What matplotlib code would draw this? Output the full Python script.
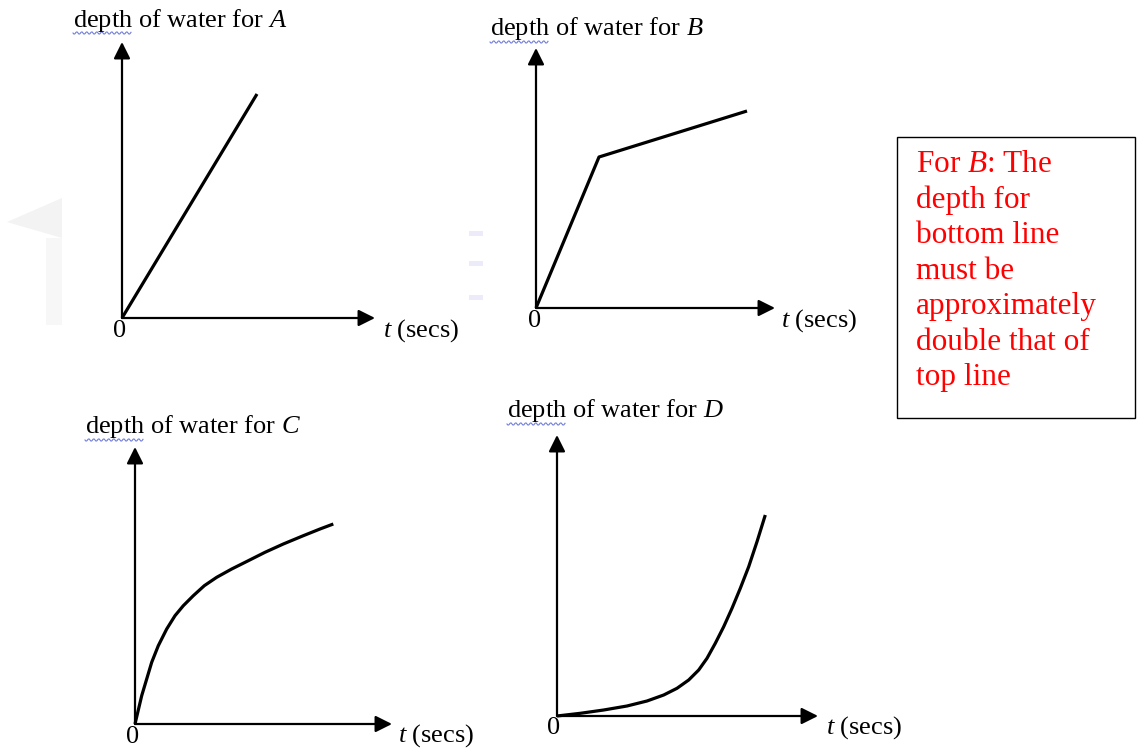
import numpy as np
import matplotlib
matplotlib.use("Agg")
import matplotlib.pyplot as plt
from matplotlib.patches import Rectangle, Polygon

plt.rcParams["font.family"] = ["Liberation Serif", "DejaVu Serif"]
plt.rcParams["mathtext.fontset"] = "custom"
plt.rcParams["mathtext.rm"] = "Liberation Serif"
plt.rcParams["mathtext.it"] = "Liberation Serif:italic"

W, H = 1137, 749

# sketch curves, (time, depth) in arbitrary units measured from the origin
t_a = [0, 13.5]
d_a = [0, 22.4]

t_b = [0, 6.3, 21.1]
d_b = [0, 15.1, 19.7]

t_c = [0, 0.67, 1.17, 1.67, 2.33, 3.17, 4.0, 4.83, 5.83, 6.93, 8.17,
       9.67, 11.33, 13.0, 14.83, 16.83, 18.5, 19.83]
d_c = [0, 2.83, 4.5, 6.17, 7.83, 9.5, 10.83, 11.83, 12.83, 13.83, 14.67,
       15.5, 16.33, 17.17, 18.0, 18.83, 19.5, 20.0]

t_d = [0, 2.33, 4.67, 7.0, 9.0, 10.67, 12.0, 13.17, 14.17, 15.0, 15.83,
       16.67, 17.5, 18.33, 19.17, 20.0, 20.83]
d_d = [0, 0.27, 0.6, 1.0, 1.5, 2.1, 2.77, 3.6, 4.6, 5.77, 7.27,
       8.93, 10.77, 12.77, 14.93, 17.43, 20.1]

tanks = ["A", "B", "C", "D"]
series = [(t_a, d_a), (t_b, d_b), (t_c, d_c), (t_d, d_d)]

# panel frames in pixels: origin x, origin y, x-arrow length, y-arrow length
frames = [(122, 318, 253, 276),
          (536, 308, 239, 260),
          (135, 724, 257, 277),
          (557, 716, 261, 281)]
# label anchors in pixels
title_pos = [(73, 20), (490, 29), (85, 427), (507, 411)]
zero_pos = [(113, 331), (528, 321), (126, 737), (547, 728)]
tsecs_pos = [(383, 331), (781, 321), (398, 736), (826, 728)]

note = "For $B$: The\ndepth for\nbottom line\nmust be\napproximately\ndouble that of\ntop line"

fig = plt.figure(figsize=(W / 100, H / 100), dpi=100)
fig.patch.set_facecolor("white")


def fx(x):
    return x / W


def fy(y):
    return 1 - y / H


renderer = fig.canvas.get_renderer()

# faint background watermark
fig.add_artist(Polygon([(fx(7), fy(222)), (fx(62), fy(198)), (fx(62), fy(238))],
                       closed=True, facecolor="#f3f3f3", edgecolor="none", zorder=0))
fig.add_artist(Rectangle((fx(46), fy(325)), 16 / W, 87 / H,
                         facecolor="#f7f7f7", edgecolor="none", zorder=0))
for yy in (231, 261, 295):
    fig.add_artist(Rectangle((fx(469), fy(yy + 5)), 14 / W, 5 / H,
                             facecolor="#ebebfa", edgecolor="none", zorder=0))

for name, (t, d), (ox, oy, lx, ly), tp, zp, sp in zip(
        tanks, series, frames, title_pos, zero_pos, tsecs_pos):
    ax = fig.add_axes([fx(ox), fy(oy), lx / W, ly / H])
    ax.set_xlim(0, lx / 10)
    ax.set_ylim(0, ly / 10)
    ax.axis("off")
    arrow = dict(arrowstyle="-|>,head_length=0.5,head_width=0.25",
                 mutation_scale=20, lw=1.6, color="black",
                 shrinkA=0, shrinkB=0)
    ax.annotate("", xy=(1, 0), xytext=(0, 0), xycoords="axes fraction",
                arrowprops=arrow)
    ax.annotate("", xy=(0, 1), xytext=(0, 0), xycoords="axes fraction",
                arrowprops=arrow)
    ax.plot(t, d, color="black", lw=2.3, clip_on=False,
            solid_joinstyle="round", solid_capstyle="butt")

    fig.text(fx(tp[0]), fy(tp[1]), "depth of water for $%s$" % name,
             fontsize=19, va="center", ha="left")
    fig.text(fx(zp[0]), fy(zp[1]), "0", fontsize=19, va="center", ha="left")
    fig.text(fx(sp[0]), fy(sp[1]), "$t$ (secs)", fontsize=19,
             va="center", ha="left")

    # spell-check squiggle under "depth"
    probe = fig.text(0, 0, "depth", fontsize=19)
    wpx = probe.get_window_extent(renderer).width
    probe.remove()
    xs = np.arange(0, wpx, 1.0)
    ys = 1.2 * np.sin(xs * np.pi / 2.5)
    fig.add_artist(plt.Line2D(fx(tp[0] + xs), fy(tp[1] + 13 + ys),
                              color="#5060d0", lw=0.8, alpha=0.8))

# note box
fig.add_artist(Rectangle((fx(897), fy(418)), (1135 - 897) / W, (418 - 137) / H,
                         fill=False, edgecolor="black", lw=1.0))
fig.text(fx(916), fy(150), note, color="red", fontsize=22.5, va="top",
         ha="left", linespacing=1.29)

fig.savefig("out.png", dpi=100, facecolor="white")
